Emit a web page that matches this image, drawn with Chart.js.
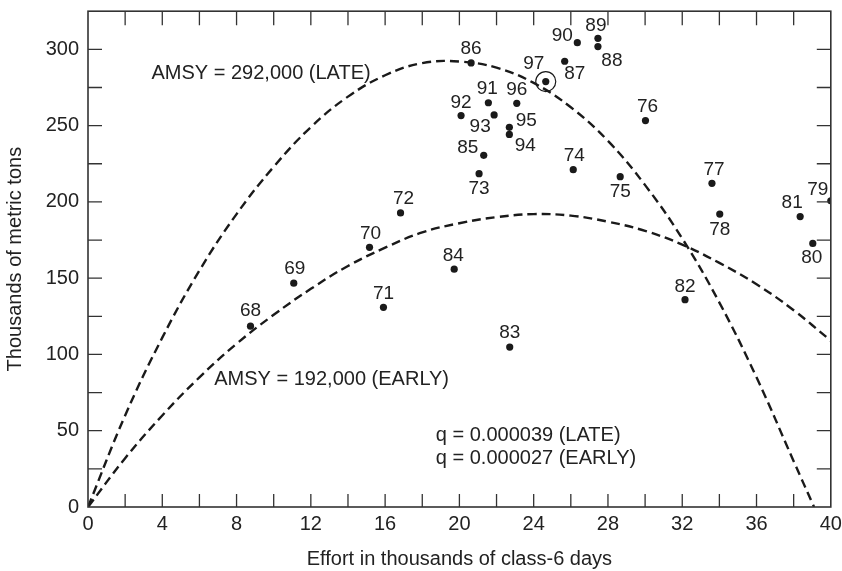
<!DOCTYPE html>
<html>
<head>
<meta charset="utf-8">
<script src="https://cdn.jsdelivr.net/npm/chart.js@4.4.0/dist/chart.umd.min.js"></script>
<style>
html,body{margin:0;padding:0;background:#fff;}
#wrap{width:842px;height:571px;position:relative;}
</style>
</head>
<body>
<div id="wrap"><canvas id="c" width="842" height="571"></canvas></div>
<script>
// ---- data ----
const years  = ['68','69','70','71','72','73','74','75','76','77','78','79','80','81','82','83','84','85','86','87','88','89','90','91','92','93','94','95','96','97'];
const effort = [8.75,11.08,15.16,15.91,16.83,21.06,26.13,28.66,30.02,33.60,34.02,40.0,39.03,38.35,32.15,22.71,19.72,21.31,20.63,25.67,27.46,27.46,26.35,21.56,20.09,21.87,22.69,22.69,23.09,24.65];
const catchK = [118.5,146.7,170.2,130.9,192.8,218.5,221.1,216.5,253.3,212.2,192.0,200.7,172.8,190.4,135.9,104.8,155.9,230.5,291.1,292.2,301.8,307.2,304.4,265.0,256.6,257.0,244.2,248.9,264.6,278.9];
const circledYear = '97';

const lateX  = [0,2,4,6,8,10,12,14,16,18,20,22,24,26,28,30,32,34,36,38,39.1];
const lateY  = [0,60,111,155,192,223,249,269,283,291,292,288,278,262,240,211,176,134,85,30,0];
const earlyX = [0,2,4,6,8,10,12,14,16,18,20,22,24,26,28,30,32,34,36,38,40];
const earlyY = [0,32,60,85,107,126,143,158,170,180,186,190,192,191,187,181,172,160,146,129,109];

const xTicks = [0,4,8,12,16,20,24,28,32,36,40];
const yTicks = [0,50,100,150,200,250,300];

const notes = [
  {text:'AMSY = 292,000 (LATE)',  x:3.42, y:284.2},
  {text:'AMSY = 192,000 (EARLY)', x:6.8,  y:83.3},
  {text:'q = 0.000039 (LATE)',    x:18.73, y:46.8},
  {text:'q = 0.000027 (EARLY)',   x:18.73, y:31.8}
];

// label placement (pixel offsets from each dot), kept apart from the data
const labelOffset = {
  '68':[0,-15],'69':[1,-14],'70':[1,-14],'71':[0,-14],'72':[3,-14],'73':[0,15],'74':[1,-14],
  '75':[0,15],'76':[2,-14],'77':[2,-14],'78':[0,16],'79':[-13,-11],'80':[-1,14],'81':[-8,-14],
  '82':[0,-13],'83':[0,-14],'84':[-1,-13],'85':[-16,-8],'86':[0,-14],'87':[10,13],'88':[14,14],
  '89':[-2,-13],'90':[-15,-7],'91':[-1,-14],'92':[0,-13],'93':[-14,12],'94':[16,11],'95':[17,-7],
  '96':[0,-14],'97':[-12,-18]
};

const FONT = '"Liberation Sans", Arial, Helvetica, sans-serif';
const INK = '#222';

const pts = effort.map((x,i)=>({x:x,y:catchK[i]}));
const ci = years.indexOf(circledYear);

const framePlugin = {
  id:'frame',
  afterDatasetsDraw(chart){
    const ctx = chart.ctx, a = chart.chartArea;
    const xs = chart.scales.x, ys = chart.scales.y;
    ctx.save();
    ctx.strokeStyle = '#333';
    ctx.lineWidth = 1.6;
    ctx.strokeRect(a.left, a.top, a.right-a.left, a.bottom-a.top);
    ctx.lineWidth = 1.3;
    ctx.beginPath();
    for(let v=2; v<40; v+=2){
      const p = xs.getPixelForValue(v);
      ctx.moveTo(p, a.bottom); ctx.lineTo(p, a.bottom-13);
      ctx.moveTo(p, a.top);    ctx.lineTo(p, a.top+14);
    }
    for(let v=25; v<=300; v+=25){
      const p = ys.getPixelForValue(v);
      ctx.moveTo(a.left, p);  ctx.lineTo(a.left+14, p);
      ctx.moveTo(a.right, p); ctx.lineTo(a.right-14, p);
    }
    ctx.stroke();
    // point labels
    ctx.fillStyle = INK;
    ctx.font = '19px ' + FONT;
    ctx.textAlign = 'center';
    ctx.textBaseline = 'middle';
    years.forEach((yr,i)=>{
      const px = xs.getPixelForValue(effort[i]);
      const py = ys.getPixelForValue(catchK[i]);
      const o = labelOffset[yr] || [0,-14];
      ctx.fillText(yr, px+o[0], py+o[1]);
    });
    // notes
    ctx.font = '20px ' + FONT;
    ctx.textAlign = 'left';
    notes.forEach(n=>{
      ctx.fillText(n.text, xs.getPixelForValue(n.x), ys.getPixelForValue(n.y));
    });
    ctx.restore();
  }
};

new Chart(document.getElementById('c'), {
  type:'scatter',
  data:{
    datasets:[
      {label:'LATE', data:lateX.map((x,i)=>({x:x,y:lateY[i]})), showLine:true, borderColor:'#1a1a1a', borderWidth:2.4, borderDash:[9,5], pointRadius:0, tension:0.4, fill:false},
      {label:'EARLY', data:earlyX.map((x,i)=>({x:x,y:earlyY[i]})), showLine:true, borderColor:'#1a1a1a', borderWidth:2.4, borderDash:[9,5], pointRadius:0, tension:0.4, fill:false},
      {label:'catch', data:pts, pointRadius:3.6, pointBackgroundColor:'#1a1a1a', pointBorderWidth:0, borderColor:'#1a1a1a'},
      {label:'circle', data:[pts[ci]], pointRadius:10, pointBackgroundColor:'rgba(0,0,0,0)', pointBorderColor:'#1a1a1a', pointBorderWidth:1.2}
    ]
  },
  options:{
    responsive:false,
    animation:false,
    layout:{padding:{left:0,right:10,top:2,bottom:0}},
    plugins:{legend:{display:false}, tooltip:{enabled:false}},
    scales:{
      x:{
        type:'linear', min:0, max:40,
        afterBuildTicks(s){ s.ticks = xTicks.map(v=>({value:v})); },
        afterFit(s){ s.height = 64; s.paddingLeft = 0; s.paddingRight = 0; },
        grid:{display:false, drawTicks:false},
        border:{display:false},
        ticks:{color:INK, font:{family:FONT, size:20}, padding:5, maxRotation:0, autoSkip:false},
        title:{display:true, text:'Effort in thousands of class-6 days', color:INK, font:{family:FONT, size:20}, padding:{top:0,bottom:0}}
      },
      y:{
        type:'linear', min:0, max:325,
        afterBuildTicks(s){ s.ticks = yTicks.map(v=>({value:v})); },
        afterFit(s){ s.width = 88; s.paddingTop = 0; s.paddingBottom = 0; },
        grid:{display:false, drawTicks:false},
        border:{display:false},
        ticks:{color:INK, font:{family:FONT, size:20}, padding:9, autoSkip:false},
        title:{display:true, text:'Thousands of metric tons', color:INK, font:{family:FONT, size:20}, padding:{top:3,bottom:0}}
      }
    }
  },
  plugins:[framePlugin]
});
</script>
</body>
</html>
